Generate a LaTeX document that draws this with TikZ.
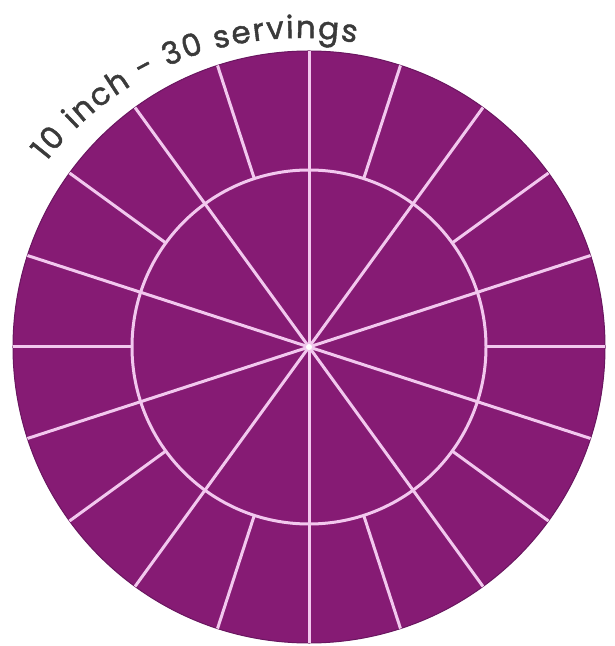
\documentclass[tikz,border=0pt]{standalone}
\usepackage{fontspec}
\setmainfont{Poppins}
\newfontfamily\rimfont{Poppins}[FakeBold=1.5]
\usetikzlibrary{decorations.text}
\definecolor{ckplum}{HTML}{861B74}
\definecolor{ckedge}{HTML}{6A1660}
\definecolor{ckcut}{HTML}{F2C8EE}
\definecolor{ckink}{HTML}{3A3A3A}

\begin{document}
\begin{tikzpicture}[
  x=0.5pt, y=0.5pt,
  cake/.style={fill=ckplum, draw=ckedge, line width=0.5pt},
  cut/.style={draw=ckcut, line width=1.5pt},
]

% radii in pixels of the reference; origin at the cake centre
\def\RO{296}\def\RI{177}
\useasboundingbox (-309,-299) rectangle (305,347);

% ---------- cake ----------
\draw[cake] (0,0) circle (\RO);
\draw[cut] (0,0) circle (\RI);

% ten inner wedges, cuts run through to the rim
\foreach \a in {18,54,...,342}{
  \draw[cut] (0,0) -- (\a:\RO);
}
% twenty outer pieces: extra cuts in the ring only
\foreach \a in {0,36,...,324}{
  \draw[cut] (\a:\RI) -- (\a:\RO);
}
\fill[white] (0,0) circle (3);

% ---------- label on the rim ----------
\path[shift={(-9,-13)}, decorate,
  decoration={text along path, text align={fit to path}, text color=ckink,
    text={|\rimfont\fontsize{15.5pt}{17pt}\selectfont|10 inch - 30 servings}}]
  (142:322) arc[start angle=142, end angle=80, radius=322];

\end{tikzpicture}
\end{document}
